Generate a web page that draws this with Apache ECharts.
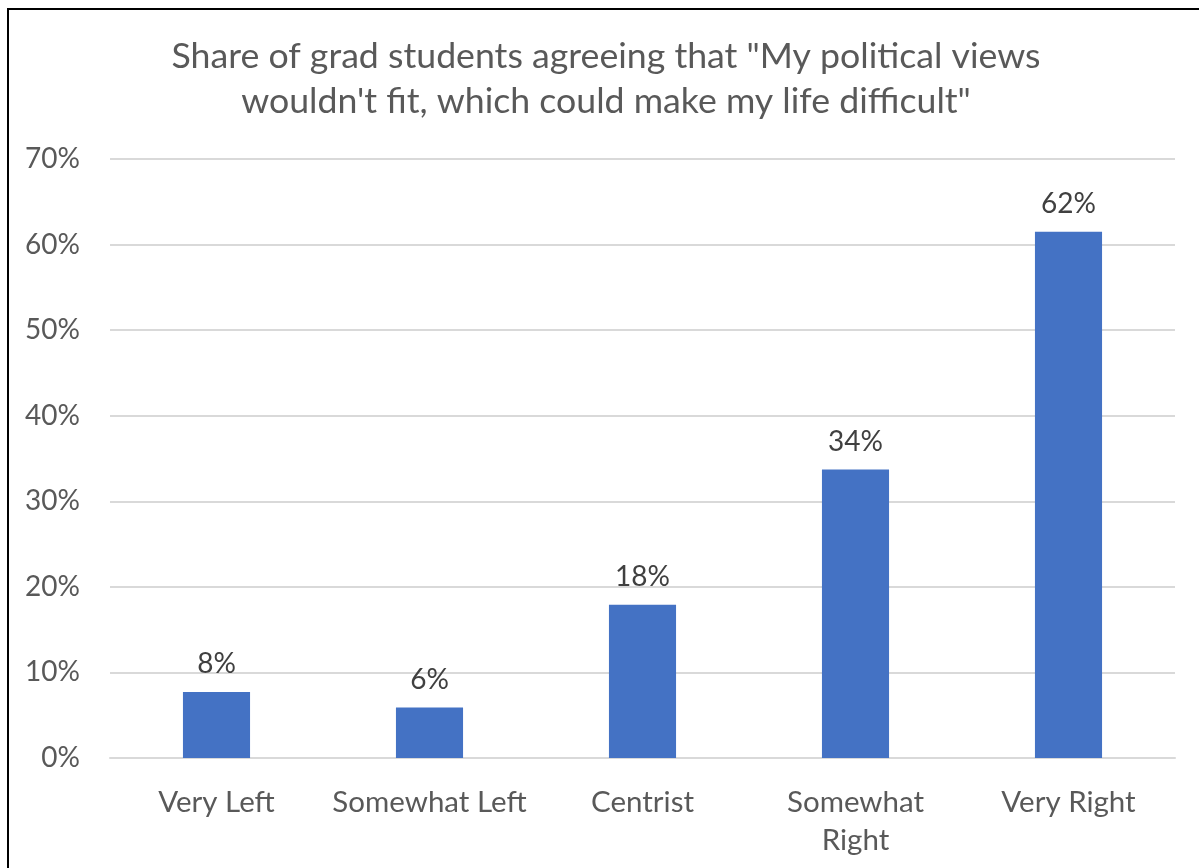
<!DOCTYPE html>
<html>
<head>
<meta charset="utf-8">
<style>
  html, body { margin: 0; padding: 0; background: #fff; }
  #chart { width: 1199px; height: 868px; }
</style>
<script src="https://cdn.jsdelivr.net/npm/echarts@6/dist/echarts.min.js"></script>
</head>
<body>
<div id="chart"></div>
<script>
// Political self-placement of respondents
const categories = ['Very Left', 'Somewhat Left', 'Centrist', 'Somewhat Right', 'Very Right'];
// Share agreeing, in percent
const agreeShare = [7.7, 5.9, 17.9, 33.7, 61.5];
const titleText = 'Share of grad students agreeing that "My political views\nwouldn\'t fit, which could make my life difficult"';

const FONT = 'Lato, "Open Sans", sans-serif';
const chart = echarts.init(document.getElementById('chart'), null, { renderer: 'canvas' });

chart.setOption({
  backgroundColor: '#ffffff',
  animation: false,
  grid: { left: 110, right: 24, top: 159, bottom: 110, containLabel: false },
  xAxis: {
    type: 'category',
    data: categories,
    axisLine: { show: true, lineStyle: { color: '#D9D9D9', width: 2 } },
    axisTick: { show: false },
    axisLabel: {
      interval: 0,
      margin: 25,
      fontFamily: FONT,
      fontSize: 29.5,
      color: '#595959',
      lineHeight: 38,
      formatter: v => v === 'Somewhat Right' ? 'Somewhat\nRight' : v
    }
  },
  yAxis: {
    type: 'value',
    min: 0,
    max: 70,
    interval: 10,
    axisLine: { show: false },
    axisTick: { show: false },
    splitLine: { lineStyle: { color: '#D9D9D9', width: 2 } },
    axisLabel: {
      margin: 30,
      fontFamily: FONT,
      fontSize: 28,
      color: '#595959',
      formatter: v => v + '%'
    }
  },
  series: [{
    type: 'bar',
    data: agreeShare,
    barWidth: '31.5%',
    itemStyle: { color: '#4472C4' },
    label: {
      show: true,
      position: 'top',
      distance: 14,
      fontFamily: FONT,
      fontSize: 28,
      color: '#404040',
      formatter: p => Math.round(p.value) + '%'
    }
  }],
  graphic: [
    // chart title, centred a little right of the canvas middle
    {
      type: 'text',
      x: 606,
      y: 34,
      style: {
        text: titleText,
        align: 'center',
        verticalAlign: 'top',
        fontFamily: FONT,
        fontSize: 35.7,
        lineHeight: 45,
        fill: '#595959'
      }
    },
    // frame edges
    { type: 'line', shape: { x1: 8, y1: 9, x2: 1199, y2: 9 }, style: { stroke: '#000', lineWidth: 2 } },
    { type: 'line', shape: { x1: 8, y1: 8, x2: 8, y2: 868 }, style: { stroke: '#000', lineWidth: 2 } }
  ]
});
</script>
</body>
</html>
